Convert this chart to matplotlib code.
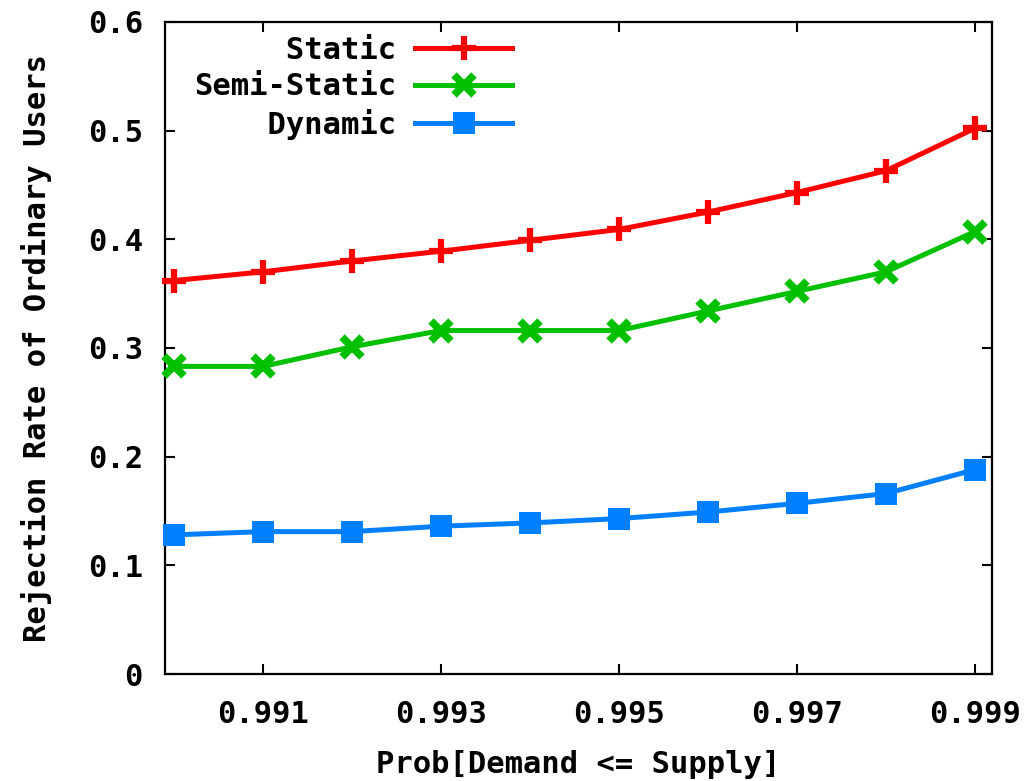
import matplotlib.pyplot as plt

# x: Prob[Demand <= Supply]
prob = [0.990, 0.991, 0.992, 0.993, 0.994, 0.995, 0.996, 0.997, 0.998, 0.999]

# rejection rate of ordinary users
static = [0.362, 0.370, 0.380, 0.389, 0.399, 0.409, 0.425, 0.443, 0.463, 0.502]
semi_static = [0.283, 0.283, 0.301, 0.316, 0.316, 0.316, 0.334, 0.352, 0.370, 0.407]
dynamic = [0.128, 0.131, 0.131, 0.136, 0.139, 0.143, 0.149, 0.157, 0.166, 0.188]

xticks = [0.991, 0.993, 0.995, 0.997, 0.999]
xtick_labels = ["0.991", "0.993", "0.995", "0.997", "0.999"]
yticks = [0, 0.1, 0.2, 0.3, 0.4, 0.5, 0.6]
ytick_labels = ["0", "0.1", "0.2", "0.3", "0.4", "0.5", "0.6"]

plt.rcParams['font.family'] = ['DejaVu Sans Mono']
plt.rcParams['font.weight'] = 'bold'
fs = 22

fig = plt.figure(figsize=(10.32, 7.81), dpi=100)
ax = fig.add_axes([0.160, 0.137, 0.801, 0.835])

ax.plot(prob, static, color='#ff0000', lw=3.6, marker='+', ms=17, mew=4.5,
        label="     Static", clip_on=False, zorder=3)
ax.plot(prob, semi_static, color='#00c000', lw=3.6, marker='x', ms=15, mew=5.5,
        label="Semi-Static", clip_on=False, zorder=3)
ax.plot(prob, dynamic, color='#0080ff', lw=3.6, marker='s', ms=16, mew=0,
        label="    Dynamic", clip_on=False, zorder=3)

ax.set_xlim(0.98990, 0.99919)
ax.set_ylim(0, 0.6)

ax.set_xticks(xticks)
ax.set_xticklabels(xtick_labels)
ax.set_yticks(yticks)
ax.set_yticklabels(ytick_labels)

ax.tick_params(direction='in', length=7, width=1.5, labelsize=fs,
               top=True, right=True)
ax.tick_params(axis='x', pad=19)
ax.tick_params(axis='y', pad=16)
for s in ax.spines.values():
    s.set_linewidth(1.6)

ax.set_xlabel("Prob[Demand <= Supply]", fontsize=fs, fontweight='bold', labelpad=15)
ax.set_ylabel("Rejection Rate of Ordinary Users", fontsize=fs, fontweight='bold', labelpad=26)

leg = ax.legend(loc='upper left', markerfirst=False, frameon=False,
                fontsize=fs, handlelength=3.2, handletextpad=0.6,
                labelspacing=0.25, borderaxespad=0.2,
                bbox_to_anchor=(0.013, 1.007))

plt.savefig("out.png", dpi=100)
